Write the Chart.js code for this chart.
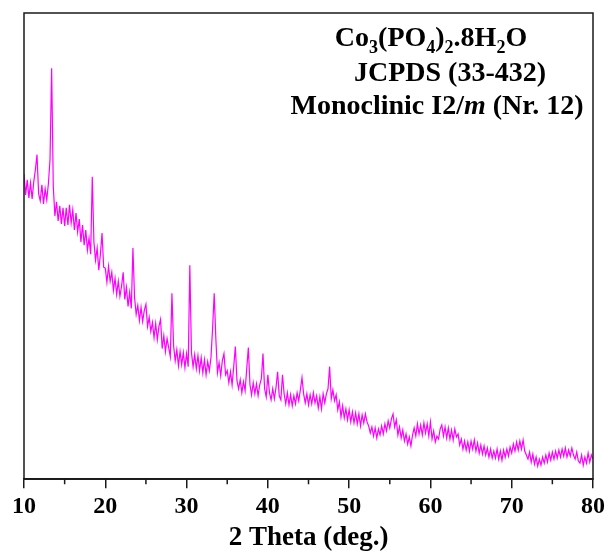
<!DOCTYPE html>
<html><head><meta charset="utf-8">
<script src="https://cdn.jsdelivr.net/npm/chart.js@4.4.0/dist/chart.umd.min.js"></script>
<style>
html,body{margin:0;padding:0;background:#fff;}
#wrap{position:relative;width:610px;height:552px;}
canvas{display:block;}
.note{position:absolute;font-family:"Liberation Serif","Times New Roman",serif;font-weight:bold;font-size:28px;line-height:34px;white-space:nowrap;transform:translateX(-50%);color:#000;}
.note sub{font-size:18px;vertical-align:baseline;position:relative;top:7px;line-height:0;}
</style></head><body>
<div id="wrap"><canvas id="c" width="610" height="552"></canvas>
<div class="note" style="left:431px;top:20px">Co<sub>3</sub>(PO<sub>4</sub>)<sub>2</sub>.8H<sub>2</sub>O</div>
<div class="note" style="left:450px;top:55px">JCPDS (33-432)</div>
<div class="note" style="left:437px;top:88px">Monoclinic I2/<i>m</i> (Nr. 12)</div>
</div>
<script>
// Scan parameters (2θ, degrees)
const startAngle = 10;
const stepAngle = 0.2;
const intensity = [
304,283,298,280,295, 279,296,308,323,284, 277,293,274,289,278, 294,318,409,292,262,
276,257,272,254,270, 252,270,253,273,255, 268,248,265,246,259, 236,253,233,248,228,
240,224,301,236,218, 230,208,224,245,211, 210,196,212,197,206, 188,200,184,197,182,
192,206,179,191,172, 186,170,230,181,164, 173,158,171,157,168, 174,152,161,147,156,
141,155,139,152,159, 130,143,127,140,131, 122,185,133,118,129, 113,127,114,126,111,
125,112,213,126,112, 124,110,123,108,121, 106,119,104,117,108, 121,150,185,140,106,
116,103,118,125,104, 108,96,107,94,112, 132,98,90,99,86, 97,88,110,131,94,
84,96,85,95,83, 94,100,125,90,82, 104,86,79,90,80, 91,107,83,79,104,
85,75,86,74,84, 73,83,75,86,78, 89,101,85,76,85, 74,84,75,86,76,
83,71,82,70,85, 76,85,90,112,80, 89,78,84,69,77, 62,73,61,70,59,
69,57,67,56,66, 55,65,53,64,56, 65,57,53,46,52, 43,51,41,50,44,
53,45,55,48,58, 51,60,65,52,59, 44,52,41,49,38, 45,35,42,33,44,
51,43,55,45,54, 44,56,46,55,43, 57,40,48,37,43, 40,50,54,43,52,
41,51,40,49,39, 50,42,45,34,40, 30,38,29,37,28, 38,30,39,28,36,
26,34,25,33,24, 31,22,30,21,28, 21,30,20,28,19, 29,22,30,23,32,
26,35,28,37,29, 38,30,39,28,24, 20,27,17,25,15, 22,13,20,14,22,
16,24,17,26,19, 27,20,28,21,29, 22,30,23,31,22, 29,23,31,24,20,
27,18,16,24,14, 22,16,26,17,24,
20
];
const tickLabels = [10,20,30,40,50,60,70,80];
const minorTicks = [15,25,35,45,55,65,75];
const axisTitle = '2 Theta (deg.)';

const points = intensity.map((v,i)=>({x:+(startAngle+i*stepAngle).toFixed(1), y:v}));
const serif = '"Liberation Serif","Times New Roman",serif';

const framePlugin = {
  id:'frame',
  afterDraw(chart){
    const {ctx, chartArea:a, scales:{x}} = chart;
    ctx.save();
    ctx.strokeStyle='#1a1a1a'; ctx.lineWidth=1.5;
    ctx.strokeRect(a.left, a.top, a.right-a.left, a.bottom-a.top);
    ctx.beginPath();
    minorTicks.forEach(v=>{const px=x.getPixelForValue(v); ctx.moveTo(px,a.bottom); ctx.lineTo(px,a.bottom+5);});
    ctx.stroke();
    ctx.restore();
  }
};

new Chart(document.getElementById('c'), {
  type:'line',
  data:{datasets:[{data:points, borderColor:'#ff00ff', borderWidth:1.2, pointRadius:0, tension:0, fill:false}]},
  options:{
    responsive:false, animation:false,
    layout:{padding:{left:24,right:17,top:13,bottom:0}},
    plugins:{legend:{display:false}, tooltip:{enabled:false}},
    scales:{
      x:{type:'linear', min:10, max:80,
        afterBuildTicks:s=>{s.ticks=tickLabels.map(v=>({value:v}));},
        ticks:{font:{family:serif,size:24,weight:'bold'}, color:'#000', padding:4, maxRotation:0, autoSkip:false},
        grid:{drawOnChartArea:false, drawTicks:true, tickLength:9, color:'#1a1a1a', lineWidth:1.5},
        border:{display:true, color:'#1a1a1a', width:1.5},
        title:{display:true, text:axisTitle, font:{family:serif,size:27,weight:'bold',lineHeight:1}, color:'#000', padding:{top:0,bottom:0}}
      },
      y:{display:false, min:0, max:464}
    }
  },
  plugins:[framePlugin]
});
</script>
</body></html>
